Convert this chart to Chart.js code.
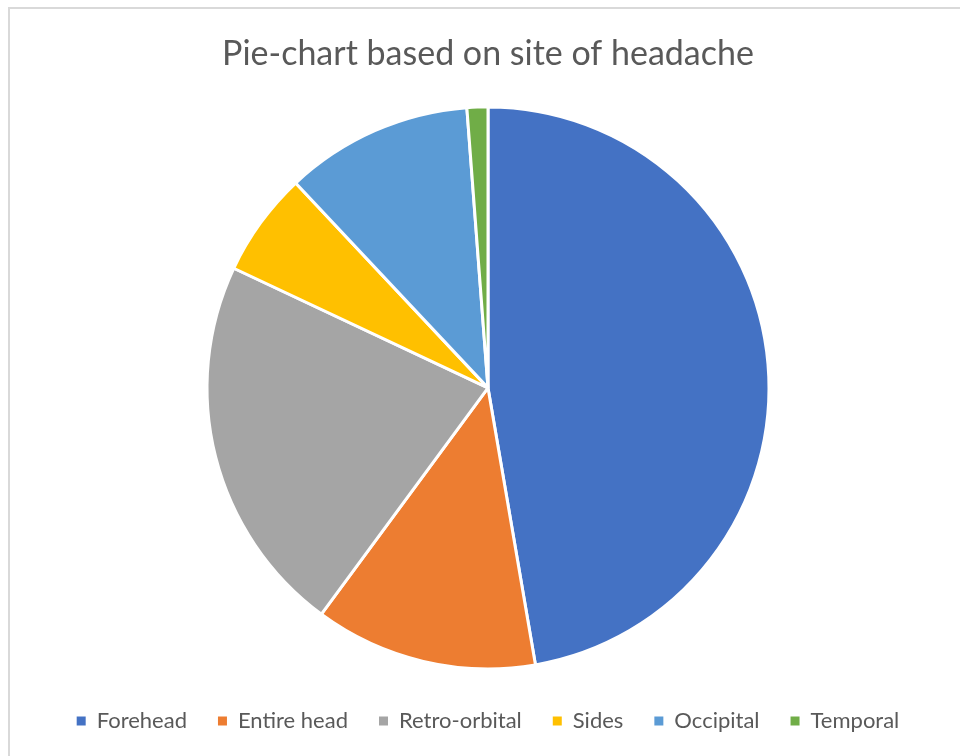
<!DOCTYPE html>
<html>
<head>
<meta charset="utf-8">
<script src="https://cdn.jsdelivr.net/npm/chart.js@4"></script>
<style>
  html, body { margin: 0; padding: 0; background: #fff; }
  #wrap { position: relative; width: 960px; height: 756px; }
  #frame {
    position: absolute; left: 8px; top: 7px; width: 970px; height: 770px;
    border: 2px solid #d9d9d9; pointer-events: none;
  }
</style>
</head>
<body>
<div id="wrap">
  <canvas id="chart"></canvas>
  <div id="frame"></div>
</div>
<script>
const sites = ["Forehead", "Entire head", "Retro-orbital", "Sides", "Occipital", "Temporal"];
const percent = [47.3, 12.8, 21.9, 6.0, 10.8, 1.2];
const colors = ["#4472C4", "#ED7D31", "#A5A5A5", "#FFC000", "#5B9BD5", "#70AD47"];

let ctx = document.getElementById('chart').getContext('2d');

// legend squares without the white slice border
const defaultLabels = Chart.controllers.pie.overrides.plugins.legend.labels.generateLabels;

let chart = new Chart(ctx, {
    type: 'pie',
    data: {
        labels: sites,
        datasets: [
            {
                data: percent,
                backgroundColor: colors,
                borderColor: "#ffffff",
                borderWidth: 3,
                radius: 281,
            }
        ]
    },
    options: {
        responsive: true,
        maintainAspectRatio: false,
        animation: false,
        layout: {
            padding: { left: 16, right: 0, top: 0, bottom: 14 }
        },
        plugins: {
            title: {
                display: true,
                text: 'Pie-chart based on site of headache',
                color: '#595959',
                font: { family: 'Lato', size: 34, weight: 'normal' },
                padding: { top: 34, bottom: 22 },
            },
            legend: {
                position: 'bottom',
                labels: {
                    color: '#595959',
                    font: { family: 'Lato', size: 22 },
                    boxWidth: 9,
                    boxHeight: 9,
                    padding: 31,
                    generateLabels: (c) => defaultLabels(c).map(item => {
                        item.lineWidth = 0;
                        item.strokeStyle = 'rgba(0,0,0,0)';
                        return item;
                    }),
                },
            },
            tooltip: { enabled: false },
        },
    }
});
</script>
</body>
</html>
